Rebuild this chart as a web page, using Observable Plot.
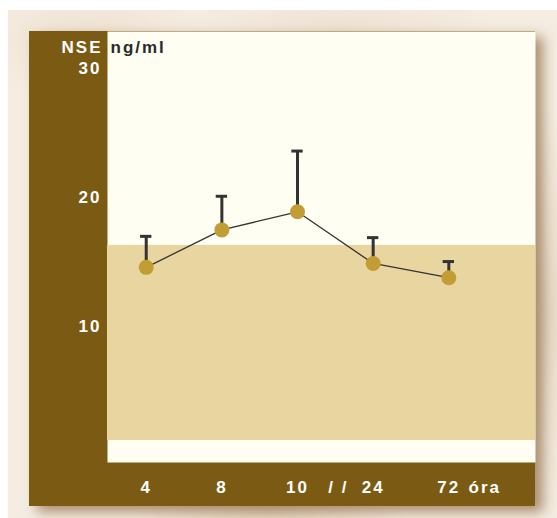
<!DOCTYPE html>
<html>
<head>
<meta charset="utf-8">
<script src="https://cdn.jsdelivr.net/npm/d3@7"></script>
<script src="https://cdn.jsdelivr.net/npm/@observablehq/plot@0.6"></script>
<style>
  html, body { margin: 0; padding: 0; background: #ffffff; }
  body { width: 557px; height: 518px; position: relative; overflow: hidden; }
  #paper {
    position: absolute; left: 8px; top: 10px; width: 549px; height: 508px;
    background:
      radial-gradient(ellipse 120px 60px at 80px 30px, rgba(235,220,200,0.7), rgba(235,220,200,0) 100%),
      radial-gradient(ellipse 160px 50px at 330px 20px, rgba(236,224,206,0.8), rgba(236,224,206,0) 100%),
      radial-gradient(ellipse 140px 40px at 260px 500px, rgba(225,205,180,0.7), rgba(225,205,180,0) 100%),
      radial-gradient(ellipse 60px 200px at 540px 300px, rgba(226,210,186,0.7), rgba(226,210,186,0) 100%),
      #f5ede2;
  }
  #chart { position: absolute; left: 29px; top: 31px; }
  #chart svg { display: block; box-shadow: 8px 6px 12px rgba(120, 80, 35, 0.6); }
</style>
</head>
<body>
<div id="paper"></div>
<div id="chart"></div>
<script>
// Serum NSE (ng/ml) over time after the event: mean with upper SD whisker
const hours = ["4", "8", "10", "24", "72"];
const means = [14.6, 17.5, 18.9, 14.9, 13.8];
const upper = [17.0, 20.1, 23.6, 16.9, 15.05];
const yTicks = [10, 20, 30];
const normalRange = [{lo: 1.2, hi: 16.3}];
const breakAfter = 2; // the time axis is broken between 10 and 24 hours
const unitLabel = "óra";

const rows = hours.map((h, i) => ({slot: i, hour: h, mean: means[i], top: upper[i]}));

const brown = "#7b5b14";
const cream = "#fffef2";
const band = "#e8d59f";
const gold = "#c29d35";
const ink = "#333333";

const chart = Plot.plot({
  width: 506,
  height: 475,
  marginLeft: 78,
  marginRight: 0,
  marginTop: 0,
  marginBottom: 44,
  style: {
    background: brown,
    fontFamily: "'Liberation Sans', Arial, Helvetica, sans-serif",
    fontSize: "17px",
    fontWeight: "bold",
    letterSpacing: "2px",
    overflow: "visible"
  },
  x: {type: "linear", domain: [-0.512, 5.146], axis: null},
  y: {domain: [-0.5, 32.85], axis: null},
  marks: [
    Plot.frame({fill: cream, stroke: null}),
    Plot.rect(normalRange, {y1: "lo", y2: "hi", fill: band}),
    Plot.line(rows, {x: "slot", y: "mean", stroke: ink, strokeWidth: 1.3}),
    Plot.ruleX(rows, {x: "slot", y1: "mean", y2: "top", stroke: ink, strokeWidth: 3}),
    Plot.ruleY(rows, {y: "top", x1: d => d.slot - 0.075, x2: d => d.slot + 0.075, stroke: ink, strokeWidth: 3}),
    Plot.dot(rows, {x: "slot", y: "mean", r: 7.5, fill: gold}),
    Plot.axisY(yTicks, {tickSize: 0, tickPadding: 6, fill: "white", label: null, tickFormat: d => String(d)}),
    Plot.axisX(rows.map(d => d.slot), {tickSize: 0, tickPadding: 18, fill: "white", label: null, tickFormat: i => hours[i]}),
    Plot.text(["/ /"], {x: [breakAfter + 0.5], frameAnchor: "bottom", dx: 3, dy: 18, lineAnchor: "top", fill: "white"}),
    Plot.text([unitLabel], {x: [hours.length - 1], frameAnchor: "bottom", dx: 36, dy: 18, lineAnchor: "top", fill: "white"}),
    Plot.text(["NSE"], {frameAnchor: "top-left", textAnchor: "end", dx: -5, dy: 9, fill: "white"}),
    Plot.text(["ng/ml"], {frameAnchor: "top-left", textAnchor: "start", dx: 3, dy: 9, fill: "#2a2a2a"})
  ]
});

document.getElementById("chart").appendChild(chart);
</script>
</body>
</html>
